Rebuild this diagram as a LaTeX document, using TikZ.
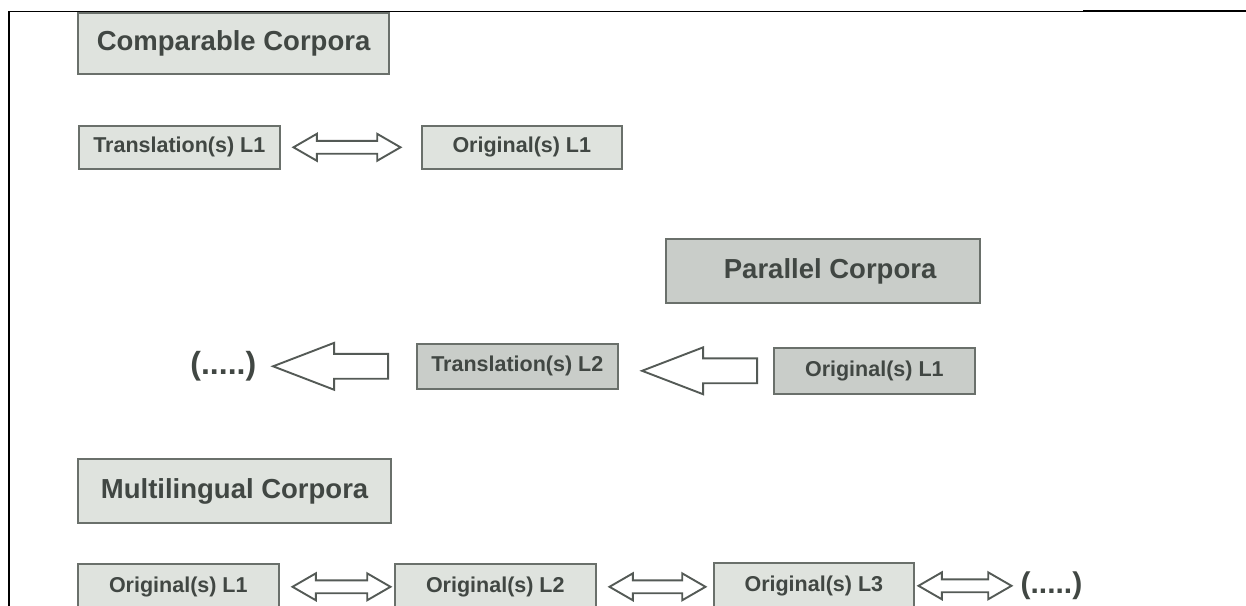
\documentclass[tikz,border=0pt]{standalone}
\usepackage{fontspec}
\setmainfont{Liberation Sans}
\usetikzlibrary{positioning,shapes.arrows}
\definecolor{boxline}{HTML}{6A706B}
\definecolor{arrowline}{HTML}{545A56}
\definecolor{lightfill}{HTML}{DFE3DE}
\definecolor{darkfill}{HTML}{C9CDC9}
\definecolor{txt}{HTML}{414743}

\begin{document}
\begin{tikzpicture}[x=1pt, y=-1pt,
  corpus/.style={draw=boxline, line width=2.2pt, fill=lightfill, text=txt,
    anchor=north west, inner sep=0pt, font=\bfseries\fontsize{27.5}{33}\selectfont},
  textbox/.style={draw=boxline, line width=1.6pt, fill=lightfill, text=txt,
    anchor=north west, inner sep=0pt, minimum width=201pt, minimum height=45pt,
    font=\bfseries\fontsize{21.5}{26}\selectfont},
  twoway/.style={double arrow, draw=arrowline, fill=white, line width=1.9pt,
    inner xsep=0pt, inner ysep=5.5pt, minimum width=25pt,
    double arrow tip angle=60, double arrow head extend=7pt},
  oneway/.style={single arrow, shape border rotate=180, draw=arrowline, fill=white,
    line width=1.9pt, inner xsep=0pt, inner ysep=11.5pt, minimum width=45pt,
    minimum height=115pt, single arrow tip angle=42, single arrow head extend=11pt},
  morelangs/.style={text=txt, inner sep=0pt, font=\bfseries\fontsize{32}{36}\selectfont}]
    \useasboundingbox (0,0) rectangle (1246,605);
    \clip (0,0) rectangle (1246,605);
    % page frame
    \draw[line width=1.8pt] (9,606) -- (9,11);
    \draw[line width=1pt] (9,11) -- (1083,11);
    \draw[line width=2.2pt] (1083,11) -- (1246,11);
    % comparable
    \node[corpus, minimum width=311pt, minimum height=61pt] (comp) at (77,12) {Comparable Corpora};
    \node[textbox, minimum height=43pt] (tl1) at (78,125) {Translation(s) L1};
    \node[textbox, minimum height=43pt, minimum width=200pt] (ol1) at (421,125) {Original(s) L1};
    \node[twoway, minimum height=107pt, right=11pt of tl1] (tl1ol1) {};
    % parallel
    \node[corpus, fill=darkfill, minimum width=314pt, minimum height=64pt] (par) at (665,238) {\hspace{14pt}Parallel Corpora};
    \node[textbox, fill=darkfill] (tl2) at (416,343) {Translation(s) L2};
    \node[textbox, fill=darkfill, minimum height=46pt] (po1) at (773,347) {Original(s) L1};
    \node[oneway, left=15pt of po1] (po1tl2) {};
    \node[oneway, left=27pt of tl2] (tl2next) {};
    \node[morelangs, left=14pt of tl2next] (dots1) {(.....)};
    % multilingual
    \node[corpus, minimum width=313pt, minimum height=64pt] (multi) at (77,458) {Multilingual Corpora};
    \node[textbox, minimum height=46pt] (mo1) at (77,563) {Original(s) L1};
    \node[textbox, minimum height=46pt] (mo2) at (394,563) {Original(s) L2};
    \node[textbox, minimum height=46pt, minimum width=200pt] (mo3) at (713,562) {Original(s) L3};
    \node[twoway, minimum height=98pt, right=11pt of mo1] (mo1mo2) {};
    \node[twoway, minimum height=96pt, right=11pt of mo2] (mo2mo3) {};
    \node[twoway, minimum height=93pt, right=2pt of mo3] (mo3next) {};
    \node[morelangs, font=\bfseries\fontsize{30}{34}\selectfont, right=7pt of mo3next] (dots2) {(.....)};
\end{tikzpicture}
\end{document}
